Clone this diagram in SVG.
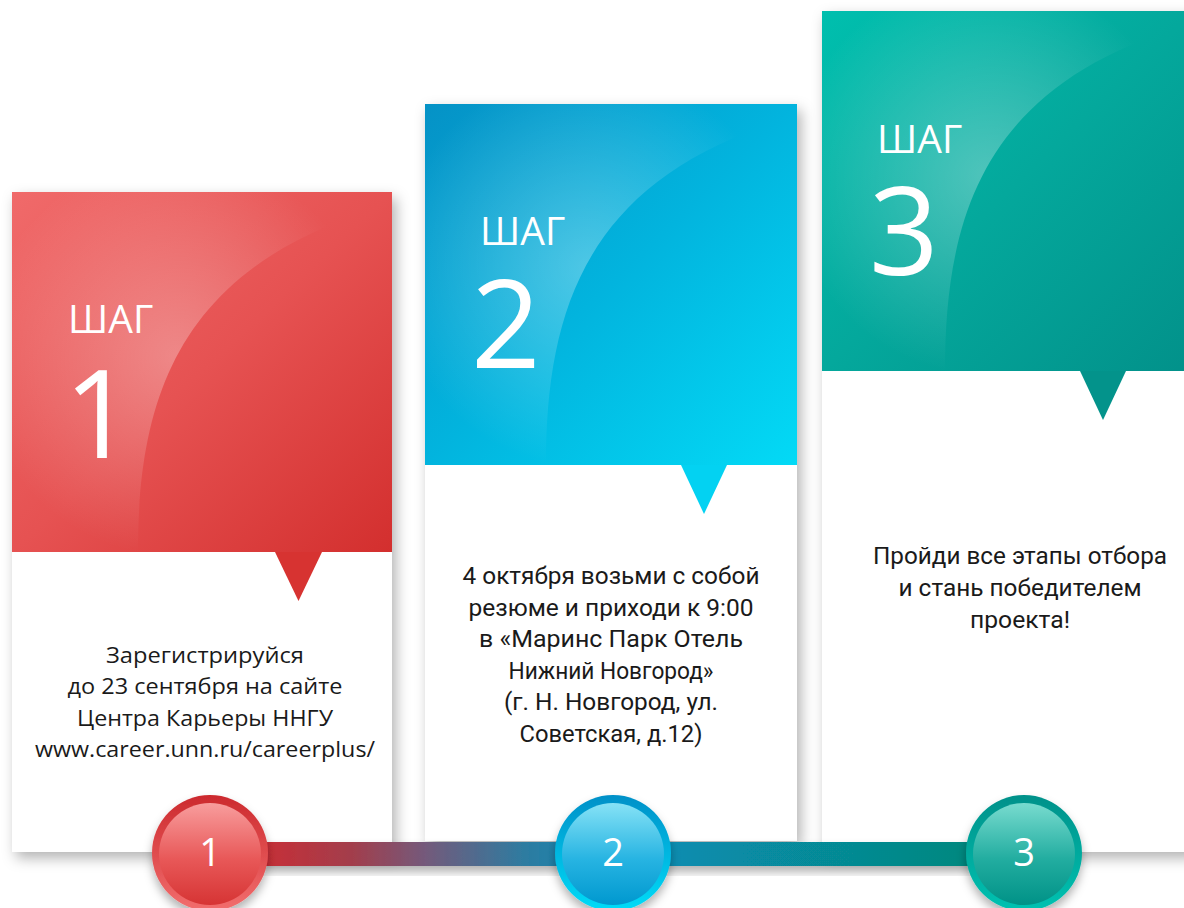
<svg xmlns="http://www.w3.org/2000/svg" width="1184" height="908" viewBox="0 0 1184 908">
  <style>
    .step { font-family: "Open Sans", "Noto Sans", sans-serif; fill: #ffffff; }
    .shag { font-size: 39px; }
    .big { font-size: 122px; }
    .body1 { font-family: "Open Sans", "Noto Sans", sans-serif; font-size: 21px; fill: #1a1a1a; text-anchor: middle; }
    .body2 { font-family: "Roboto", "Open Sans", sans-serif; font-size: 23px; fill: #1a1a1a; text-anchor: middle; }
    .num { font-family: "Open Sans", "Noto Sans", sans-serif; font-size: 38px; fill: #ffffff; text-anchor: middle; }
    .card-white { fill: #ffffff; }
    .hl { fill: url(#hl); }
  </style>
  <defs>
    <filter id="shadow" x="-10%" y="-10%" width="125%" height="125%">
      <feDropShadow dx="4" dy="6" stdDeviation="7" flood-color="#000" flood-opacity="0.3"/>
    </filter>
    <filter id="cshadow" x="-30%" y="-30%" width="160%" height="170%">
      <feDropShadow dx="0" dy="6" stdDeviation="5" flood-color="#000" flood-opacity="0.3"/>
    </filter>
    <radialGradient id="hl" gradientUnits="userSpaceOnUse" cx="165" cy="165" r="200">
      <stop offset="0" stop-color="#ffffff" stop-opacity="0.3"/>
      <stop offset="0.6" stop-color="#ffffff" stop-opacity="0.12"/>
      <stop offset="1" stop-color="#ffffff" stop-opacity="0"/>
    </radialGradient>
    <linearGradient id="g1" x1="0" y1="0" x2="1" y2="1">
      <stop offset="0" stop-color="#f06a6a"/>
      <stop offset="0.5" stop-color="#e65252"/>
      <stop offset="1" stop-color="#d32f2e"/>
    </linearGradient>
    <linearGradient id="g2" x1="0" y1="0" x2="1" y2="1">
      <stop offset="0" stop-color="#0592c6"/>
      <stop offset="0.5" stop-color="#02b4de"/>
      <stop offset="1" stop-color="#03daf6"/>
    </linearGradient>
    <linearGradient id="g3" x1="0" y1="0" x2="1" y2="1">
      <stop offset="0" stop-color="#00bfae"/>
      <stop offset="0.5" stop-color="#04a89c"/>
      <stop offset="1" stop-color="#02918a"/>
    </linearGradient>
    <linearGradient id="bar" gradientUnits="userSpaceOnUse" x1="268" y1="0" x2="975" y2="0">
      <stop offset="0" stop-color="#c52f38"/>
      <stop offset="0.12" stop-color="#a23e4c"/>
      <stop offset="0.22" stop-color="#75597a"/>
      <stop offset="0.36" stop-color="#2f7ba0"/>
      <stop offset="0.5" stop-color="#088db8"/>
      <stop offset="1" stop-color="#05887e"/>
    </linearGradient>
    <linearGradient id="o1" x1="0" y1="0" x2="0" y2="1">
      <stop offset="0" stop-color="#cc2a2e"/>
      <stop offset="1" stop-color="#f26e6e"/>
    </linearGradient>
    <linearGradient id="i1" x1="0" y1="0" x2="0" y2="1">
      <stop offset="0" stop-color="#f89d9d"/>
      <stop offset="0.55" stop-color="#e85858"/>
      <stop offset="1" stop-color="#d63434"/>
    </linearGradient>
    <linearGradient id="o2" x1="0" y1="0" x2="0" y2="1">
      <stop offset="0" stop-color="#0290c8"/>
      <stop offset="1" stop-color="#00dcf8"/>
    </linearGradient>
    <linearGradient id="i2" x1="0" y1="0" x2="0" y2="1">
      <stop offset="0" stop-color="#86e2f6"/>
      <stop offset="0.55" stop-color="#27b4e2"/>
      <stop offset="1" stop-color="#0098cf"/>
    </linearGradient>
    <linearGradient id="o3" x1="0" y1="0" x2="0" y2="1">
      <stop offset="0" stop-color="#02918a"/>
      <stop offset="1" stop-color="#00c2b1"/>
    </linearGradient>
    <linearGradient id="i3" x1="0" y1="0" x2="0" y2="1">
      <stop offset="0" stop-color="#78dbcf"/>
      <stop offset="0.55" stop-color="#22ada0"/>
      <stop offset="1" stop-color="#009287"/>
    </linearGradient>
  </defs>
  <rect width="1184" height="908" fill="#ffffff"/>

  <!-- Card 1 -->
  <g id="card1" transform="translate(12,192)">
    <rect class="card-white" x="0" y="0" width="380" height="660" filter="url(#shadow)"/>
    <rect x="0" y="0" width="380" height="360" fill="url(#g1)"/>
    <path class="hl" d="M0,0 L380,0 L380,12 C170,70 126,200 126,360 L0,360 Z"/>
    <path d="M263,360 L310,360 L286.5,409 Z" fill="#d73331"/>
    <text class="step shag" x="56" y="141">ШАГ</text>
    <text class="step big" x="52" y="266">1</text>
    <text class="body1" x="193" y="471" textLength="198" lengthAdjust="spacingAndGlyphs">Зарегистрируйся</text>
    <text class="body1" x="193" y="502" textLength="275" lengthAdjust="spacingAndGlyphs">до 23 сентября на сайте</text>
    <text class="body1" x="193" y="534" textLength="256" lengthAdjust="spacingAndGlyphs">Центра Карьеры ННГУ</text>
    <text class="body1" x="193" y="565" textLength="340" lengthAdjust="spacingAndGlyphs">www.career.unn.ru/careerplus/</text>
  </g>

  <!-- Card 2 -->
  <g id="card2" transform="translate(425,104)">
    <rect class="card-white" x="0" y="0" width="372" height="737" filter="url(#shadow)"/>
    <rect x="0" y="0" width="372" height="361" fill="url(#g2)"/>
    <path class="hl" d="M0,0 L372,0 L372,12 C165,70 121,200 121,361 L0,361 Z"/>
    <path d="M256,361 L302,361 L279,410 Z" fill="#03d2f2"/>
    <text class="step shag" x="55" y="141">ШАГ</text>
    <text class="step big" x="46" y="264">2</text>
    <text class="body2" x="186" y="480" textLength="297" lengthAdjust="spacingAndGlyphs">4 октября возьми с собой</text>
    <text class="body2" x="186" y="512" textLength="285" lengthAdjust="spacingAndGlyphs">резюме и приходи к 9:00</text>
    <text class="body2" x="186" y="543" textLength="264" lengthAdjust="spacingAndGlyphs">в «Маринс Парк Отель</text>
    <text class="body2" x="186" y="575" textLength="205" lengthAdjust="spacingAndGlyphs">Нижний Новгород»</text>
    <text class="body2" x="186" y="606" textLength="214" lengthAdjust="spacingAndGlyphs">(г. Н. Новгород, ул.</text>
    <text class="body2" x="186" y="638" textLength="183" lengthAdjust="spacingAndGlyphs">Советская, д.12)</text>
  </g>

  <!-- Card 3 -->
  <g id="card3" transform="translate(822,11)">
    <rect class="card-white" x="0" y="0" width="372" height="841" filter="url(#shadow)"/>
    <rect x="0" y="0" width="372" height="360" fill="url(#g3)"/>
    <path class="hl" d="M0,0 L372,0 L372,12 C165,70 123,200 123,360 L0,360 Z"/>
    <path d="M258,360 L304,360 L281,409 Z" fill="#03938b"/>
    <text class="step shag" x="55" y="142">ШАГ</text>
    <text class="step big" x="47" y="264">3</text>
    <text class="body2" x="198" y="553" textLength="294" lengthAdjust="spacingAndGlyphs">Пройди все этапы отбора</text>
    <text class="body2" x="198" y="585" textLength="243" lengthAdjust="spacingAndGlyphs">и стань победителем</text>
    <text class="body2" x="198" y="617" textLength="100" lengthAdjust="spacingAndGlyphs">проекта!</text>
  </g>

  <!-- Connectors -->
  <g id="connectors">
    <rect x="262" y="842" width="712" height="24" fill="url(#bar)" filter="url(#cshadow)"/>
  </g>

  <!-- Step circles -->
  <g id="circle1">
    <circle cx="210" cy="853" r="58" fill="url(#o1)" filter="url(#cshadow)"/>
    <circle cx="210" cy="854" r="51" fill="url(#i1)"/>
    <text class="num" x="210" y="866">1</text>
  </g>
  <g id="circle2">
    <circle cx="613" cy="853" r="58" fill="url(#o2)" filter="url(#cshadow)"/>
    <circle cx="613" cy="854" r="51" fill="url(#i2)"/>
    <text class="num" x="613" y="866">2</text>
  </g>
  <g id="circle3">
    <circle cx="1024" cy="853" r="58" fill="url(#o3)" filter="url(#cshadow)"/>
    <circle cx="1024" cy="854" r="51" fill="url(#i3)"/>
    <text class="num" x="1024" y="866">3</text>
  </g>
</svg>
